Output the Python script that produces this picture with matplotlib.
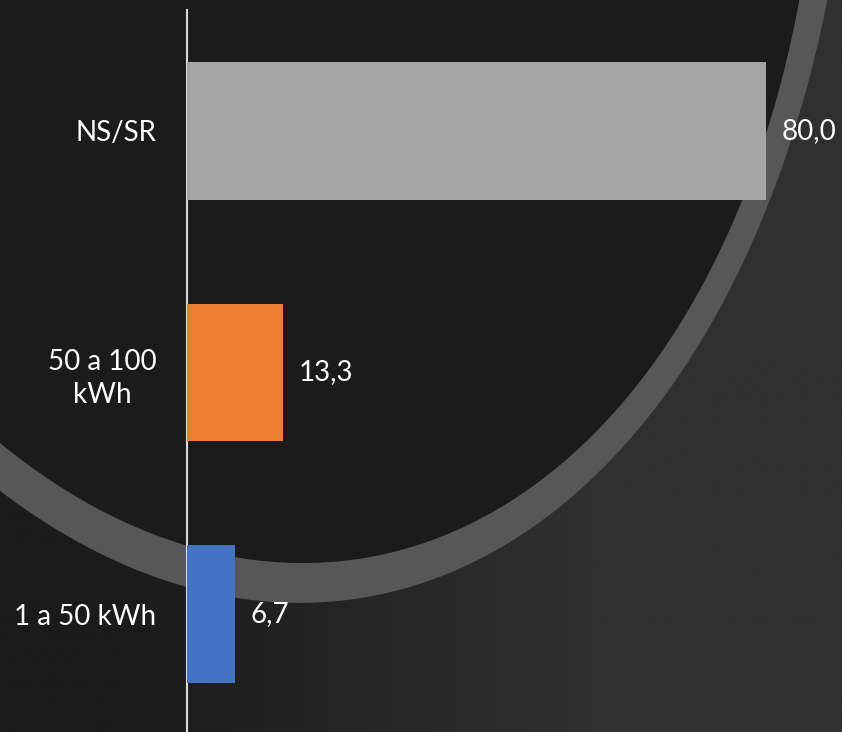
import matplotlib

matplotlib.use("Agg")

import matplotlib.pyplot as plt
import numpy as np
from matplotlib.patches import Ellipse

# chart data (bottom to top)
categories = ["1 a 50 kWh", "50 a 100\nkWh", "NS/SR"]
values = [6.7, 13.3, 80.0]
bar_colors = ["#4472C4", "#ED7D31", "#A5A5A5"]

W, H = 842, 732
plt.rcParams["font.family"] = ["Lato", "DejaVu Sans"]

fig = plt.figure(figsize=(W / 100, H / 100), dpi=100)
fig.patch.set_facecolor("#1b1b1b")

# background: soft gradient + the big grey ring of the slide
bg = fig.add_axes([0, 0, 1, 1], zorder=0)
bg.set_xlim(0, W)
bg.set_ylim(H, 0)
bg.axis("off")
xs = np.linspace(0, 1, 300)
shade = np.clip((xs - 0.15) / 0.55, 0, 1)
lo, hi = 0x1b / 255, 0x30 / 255
row = lo + shade * (hi - lo)
img = np.dstack([row, row, row])
bg.imshow(img, extent=(0, W, H, 0), aspect="auto", zorder=0)
bg.add_patch(Ellipse((202, -456), 1284, 2132, angle=-8.3,
                     facecolor="#575757", edgecolor="none", zorder=1))
bg.add_patch(Ellipse((222, -360), 1178, 1858, angle=-8.4,
                     facecolor="#1b1b1b", edgecolor="none", zorder=2))

# bar chart
ax = fig.add_axes([187 / W, -3 / H, 1 - 187 / W, 725 / H], zorder=2)
ax.patch.set_alpha(0)
y = np.arange(len(categories))
bars = ax.barh(y, values, height=0.57, color=bar_colors, zorder=3)
ax.set_xlim(0, 655 / (579 / 80))
ax.set_ylim(-0.5, 2.5)
ax.set_yticks(y, categories)
for lbl in ax.get_yticklabels():
    lbl.set_multialignment("center")
    lbl.set_linespacing(1.35)
ax.tick_params(axis="y", length=0, pad=22, labelcolor="white", labelsize=20)
ax.tick_params(axis="x", bottom=False, labelbottom=False)
for side in ("top", "right", "bottom"):
    ax.spines[side].set_visible(False)
ax.spines["left"].set_color("#d9d9d9")
ax.spines["left"].set_linewidth(1.5)

ax.bar_label(bars, labels=[f"{v:.1f}".replace(".", ",") for v in values],
             padding=11, color="white", fontsize=20)

fig.savefig("out.png", dpi=100, facecolor=fig.get_facecolor())
